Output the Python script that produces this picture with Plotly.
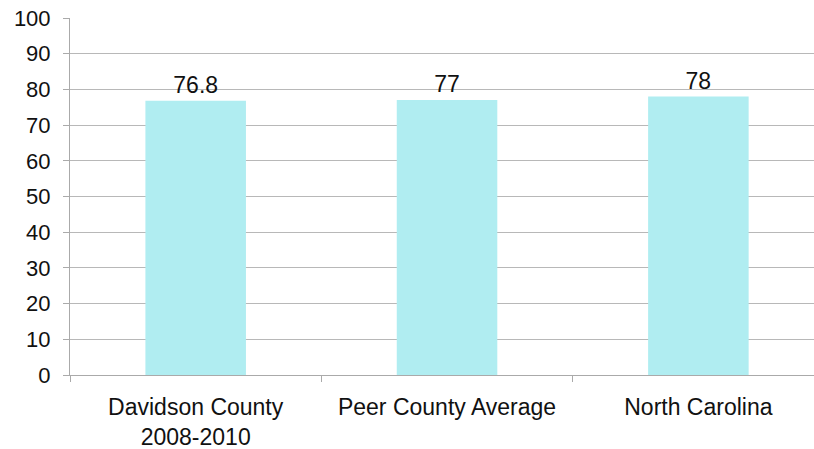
import plotly.graph_objects as go

categories = ["Davidson County<br>2008-2010", "Peer County Average", "North Carolina"]
values = [76.8, 77, 78]
labels = ["76.8", "77", "78"]
y_ticks = [0, 10, 20, 30, 40, 50, 60, 70, 80, 90, 100]

fig = go.Figure()
fig.add_trace(go.Bar(
    x=categories, y=values, text=labels, textposition="outside",
    textfont=dict(size=23, color="#111111", family="Liberation Sans, Arial"),
    marker=dict(color="#b0edf1", line=dict(width=0)),
    width=0.4, cliponaxis=False,
))
fig.update_layout(
    width=814, height=449,
    margin=dict(l=70, r=0, t=18, b=74),
    plot_bgcolor="white", paper_bgcolor="white",
    font=dict(family="Liberation Sans, Arial", size=22, color="#111111"),
    showlegend=False,
    bargap=0.6,
)
fig.update_xaxes(
    range=[-0.5, 2.46], showgrid=False, showline=True, linecolor="#aaaaaa",
    ticks="outside", tickson="boundaries", ticklen=6, tickcolor="#aaaaaa",
    tickfont=dict(size=23), automargin=False, ticklabelstandoff=11,
)
fig.update_yaxes(
    range=[0, 100], tickvals=y_ticks, showgrid=True, gridcolor="#b8b8b8",
    showline=True, linecolor="#aaaaaa", ticks="outside", ticklen=6,
    tickcolor="#aaaaaa", tickfont=dict(size=22), zeroline=False,
    automargin=False, ticklabelstandoff=8,
)
fig.write_html("out.html")
